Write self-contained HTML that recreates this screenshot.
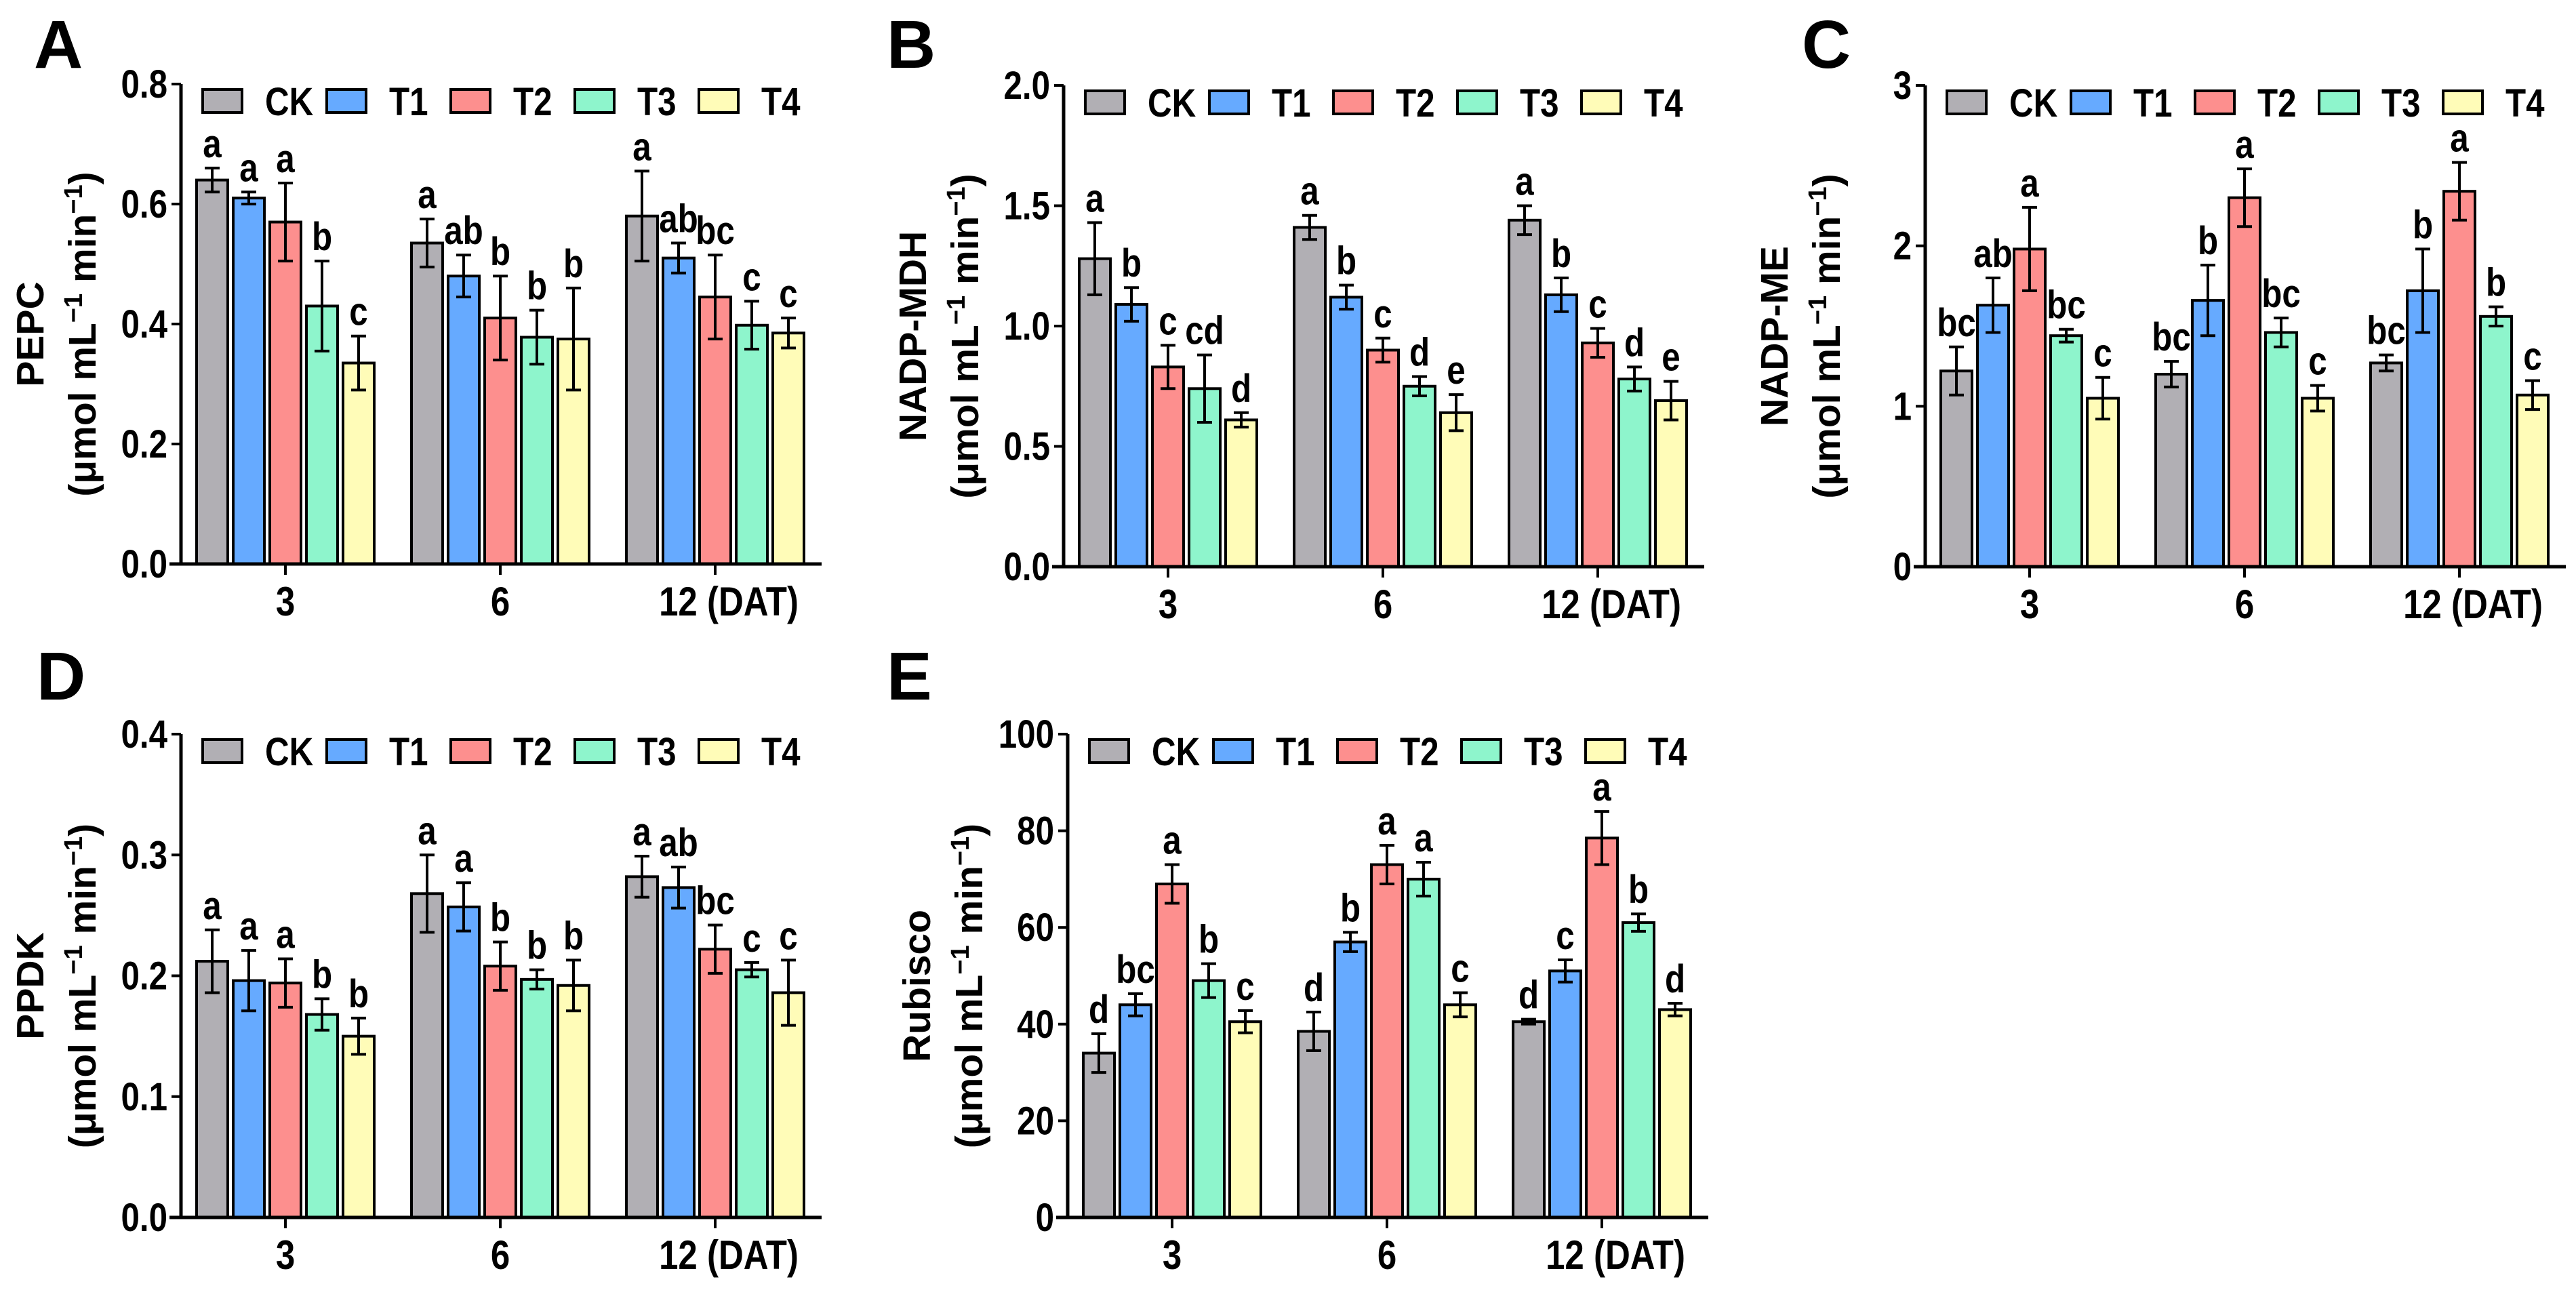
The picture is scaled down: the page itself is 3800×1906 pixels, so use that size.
<!DOCTYPE html>
<html><head><meta charset="utf-8"><style>
html,body{margin:0;padding:0;background:#fff;}
svg{display:block;font-family:"Liberation Sans",Arial,sans-serif;font-weight:bold;}
</style></head><body>
<svg id="fig" width="3800" height="1906" viewBox="0 0 3800 1906" xmlns="http://www.w3.org/2000/svg"></svg>
<script>
const categories = ["3","6","12 (DAT)"];
const seriesNames = ["CK","T1","T2","T3","T4"];
const colors = ["#b1afb4","#66aaff","#fd8f8e","#8ef5cc","#fffcb8"];

// Panel A PEPC
const pepcValues = [[0.64,0.61,0.57,0.43,0.335],[0.535,0.48,0.41,0.378,0.375],[0.58,0.51,0.445,0.398,0.385]];
const pepcErrors = [[0.02,0.01,0.065,0.075,0.045],[0.04,0.035,0.07,0.045,0.085],[0.075,0.025,0.07,0.04,0.025]];
const pepcLetters = [["a","a","a","b","c"],["a","ab","b","b","b"],["a","ab","bc","c","c"]];
const pepcTicks = [0,0.2,0.4,0.6,0.8];
const pepcTickLabels = ["0.0","0.2","0.4","0.6","0.8"];

// Panel B NADP-MDH
const mdhValues = [[1.28,1.09,0.83,0.74,0.61],[1.41,1.12,0.90,0.75,0.64],[1.44,1.13,0.93,0.78,0.69]];
const mdhErrors = [[0.15,0.07,0.09,0.14,0.03],[0.05,0.05,0.05,0.04,0.075],[0.06,0.07,0.06,0.05,0.08]];
const mdhLetters = [["a","b","c","cd","d"],["a","b","c","d","e"],["a","b","c","d","e"]];
const mdhTicks = [0,0.5,1.0,1.5,2.0];
const mdhTickLabels = ["0.0","0.5","1.0","1.5","2.0"];

// Panel C NADP-ME
const meValues = [[1.22,1.63,1.98,1.44,1.05],[1.20,1.66,2.30,1.46,1.05],[1.27,1.72,2.34,1.56,1.07]];
const meErrors = [[0.15,0.17,0.26,0.04,0.13],[0.08,0.22,0.18,0.09,0.08],[0.05,0.26,0.18,0.06,0.09]];
const meLetters = [["bc","ab","a","bc","c"],["bc","b","a","bc","c"],["bc","b","a","b","c"]];
const meTicks = [0,1,2,3];
const meTickLabels = ["0","1","2","3"];

// Panel D PPDK
const ppdkValues = [[0.212,0.196,0.194,0.168,0.150],[0.268,0.257,0.208,0.197,0.192],[0.282,0.273,0.222,0.205,0.186]];
const ppdkErrors = [[0.026,0.025,0.02,0.013,0.015],[0.032,0.02,0.02,0.008,0.021],[0.017,0.017,0.02,0.006,0.027]];
const ppdkLetters = [["a","a","a","b","b"],["a","a","b","b","b"],["a","ab","bc","c","c"]];
const ppdkTicks = [0,0.1,0.2,0.3,0.4];
const ppdkTickLabels = ["0.0","0.1","0.2","0.3","0.4"];

// Panel E Rubisco
const rubValues = [[34,44,69,49,40.5],[38.5,57,73,70,44],[40.5,51,78.5,61,43]];
const rubErrors = [[4,2.3,4,3.5,2.3],[4,2,4,3.5,2.5],[0.5,2.3,5.5,1.8,1.3]];
const rubLetters = [["d","bc","a","b","c"],["d","b","a","a","c"],["d","c","a","b","d"]];
const rubTicks = [0,20,40,60,80,100];
const rubTickLabels = ["0","20","40","60","80","100"];

const NS = "http://www.w3.org/2000/svg";
const svg = document.getElementById("fig");
function mk(tag, attrs, parent){
  const e = document.createElementNS(NS, tag);
  for (const k in attrs) e.setAttribute(k, attrs[k]);
  (parent||svg).appendChild(e);
  return e;
}
// condensed text: placed via transform with horizontal squeeze
function ctext(parent, x, y, size, anchor, str){
  const t = mk("text",{x:0,y:0,"font-size":size,"text-anchor":anchor,fill:"#000",transform:`translate(${x},${y}) scale(0.85,1)`},parent);
  t.textContent = str;
  return t;
}

const panels = [
  {id:"a",letter:"A",lx:50,ly:100,ax:267,top:124,zero:832,max:0.8,vals:pepcValues,errs:pepcErrors,lets:pepcLetters,ticks:pepcTicks,tl:pepcTickLabels,title:"PEPC"},
  {id:"b",letter:"B",lx:1308,ly:100,ax:1569,top:126,zero:836,max:2.0,vals:mdhValues,errs:mdhErrors,lets:mdhLetters,ticks:mdhTicks,tl:mdhTickLabels,title:"NADP-MDH"},
  {id:"c",letter:"C",lx:2658,ly:100,ax:2840,top:126,zero:836,max:3,vals:meValues,errs:meErrors,lets:meLetters,ticks:meTicks,tl:meTickLabels,title:"NADP-ME"},
  {id:"d",letter:"D",lx:54,ly:1032,ax:267,top:1083,zero:1796,max:0.4,vals:ppdkValues,errs:ppdkErrors,lets:ppdkLetters,ticks:ppdkTicks,tl:ppdkTickLabels,title:"PPDK"},
  {id:"e",letter:"E",lx:1308,ly:1032,ax:1575,top:1083,zero:1796,max:100,vals:rubValues,errs:rubErrors,lets:rubLetters,ticks:rubTicks,tl:rubTickLabels,title:"Rubisco"}
];

panels.forEach(p=>{
  const g = mk("g",{});
  
  
  const y = v => p.zero - v/p.max*(p.zero-p.top);
  const gx = i => p.ax + 154 + 317*i;
  const pitch = 54, bw = 46;
  const bx = (i,j) => gx(i) + (j-2)*pitch - bw/2;

  const L = mk("text",{x:p.lx,y:p.ly,"font-size":100,fill:"#000"},g);
  L.textContent = p.letter;
  
  

  p.vals.forEach((grp,i)=>{
    grp.forEach((v,j)=>{
      const r = mk("rect",{x:bx(i,j),y:y(v),width:bw,height:p.zero-y(v),fill:colors[j],stroke:"#000","stroke-width":4},g);
      
      
      const cx = bx(i,j)+bw/2, e = p.errs[i][j];
      const hi = y(v+e), lo = y(v-e);
      const eb = mk("path",{d:`M${cx} ${hi}V${lo}M${cx-11} ${hi}H${cx+11}M${cx-11} ${lo}H${cx+11}`,stroke:"#000","stroke-width":4,fill:"none"},g);
      
      
      const t = ctext(g, cx, hi-16, 58, "middle", p.lets[i][j]);
      
      
    });
  });

  const ya = mk("line",{x1:p.ax,y1:p.top,x2:p.ax,y2:p.zero,stroke:"#000","stroke-width":5},g);
  
  
  const xa = mk("line",{x1:p.ax-17,y1:p.zero,x2:p.ax+945,y2:p.zero,stroke:"#000","stroke-width":5},g);
  
  
  p.ticks.forEach((tv,k)=>{
    mk("line",{x1:p.ax-14,y1:y(tv),x2:p.ax,y2:y(tv),stroke:"#000","stroke-width":4},g);
    const t = ctext(g, p.ax-20, y(tv)+20, 58, "end", p.tl[k]);
    
    
  });
  categories.forEach((c,i)=>{
    mk("line",{x1:gx(i),y1:p.zero,x2:gx(i),y2:p.zero+16,stroke:"#000","stroke-width":4},g);
    const t = ctext(g, c.length>2?gx(i)+20:gx(i), p.zero+76, 60, "middle", c);
    
    
  });

  const ly = p.top + 25;
  seriesNames.forEach((s,j)=>{
    const x0 = p.ax + 32 + j*183;
    const r = mk("rect",{x:x0,y:ly-17,width:58,height:34,fill:colors[j],stroke:"#000","stroke-width":4},g);
    
    
    const t = ctext(g, x0+92, ly+21, 58, "start", s);
    
    
  });

  const cy = (p.top+p.zero)/2 + 15;
  const t1 = mk("text",{x:0,y:0,"font-size":57,"text-anchor":"middle",fill:"#000",transform:`translate(${p.ax-203},${cy}) rotate(-90)`},g);
  t1.textContent = p.title;
  
  
  const t2 = mk("text",{x:0,y:0,"font-size":57,"text-anchor":"middle",fill:"#000",transform:`translate(${p.ax-126},${cy}) rotate(-90)`},g);
  
  
  t2.innerHTML = '(μmol mL<tspan dy="-20" font-size="38">−1</tspan><tspan dy="20"> min</tspan><tspan dy="-20" font-size="38">−1</tspan><tspan dy="20">)</tspan>';
});
</script>
</body></html>
